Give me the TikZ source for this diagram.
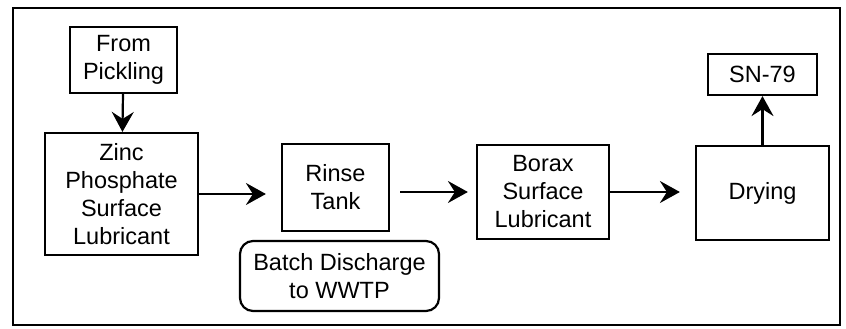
\documentclass[tikz,border=0pt]{standalone}
\usepackage{fontspec}
\setmainfont{Liberation Sans}
\usetikzlibrary{arrows.meta}
\begin{document}
\begin{tikzpicture}[x=1pt,y=-1pt,
  box/.style={draw, line width=2.2pt, align=center, inner sep=0pt,
    font=\fontsize{23.5}{28}\selectfont},
  arr/.style={line width=2.2pt, -{Stealth[length=20pt,width=22pt,inset=7pt]}}]
\useasboundingbox (0,0) rectangle (846,329);
\draw[line width=2.2pt] (13,8) rectangle (840,325);
\node[box, minimum width=107pt, minimum height=66pt] (pick) at (123.5,60) {From\\Pickling};
\node[box, minimum width=153pt, minimum height=122pt] (zinc) at (121.5,194) {Zinc\\Phosphate\\Surface\\Lubricant};
\node[box, minimum width=107pt, minimum height=87pt] (rinse) at (335.5,187.5) {Rinse\\Tank};
\node[box, rounded corners=13pt, minimum width=199pt, minimum height=70pt] (batch) at (339.5,276) {Batch Discharge\\to WWTP};
\node[box, minimum width=132pt, minimum height=94pt] (borax) at (543,192) {Borax\\Surface\\Lubricant};
\node[box, minimum width=133pt, minimum height=94pt] (dry) at (762.5,193) {Drying};
\node[box, minimum width=109pt, minimum height=41pt] (sn) at (762.5,74.5) {SN-79};
\draw[arr] (pick) -- (zinc);
\draw[arr, shorten >=15pt] (zinc.east) -- (zinc.east -| rinse.west);
\draw[arr, shorten <=10pt, shorten >=8pt] (rinse.east |- borax.west) -- (borax.west);
\draw[arr, shorten >=15pt] (borax.east) -- (borax.east -| dry.west);
\draw[arr] (dry) -- (sn);
\end{tikzpicture}
\end{document}
